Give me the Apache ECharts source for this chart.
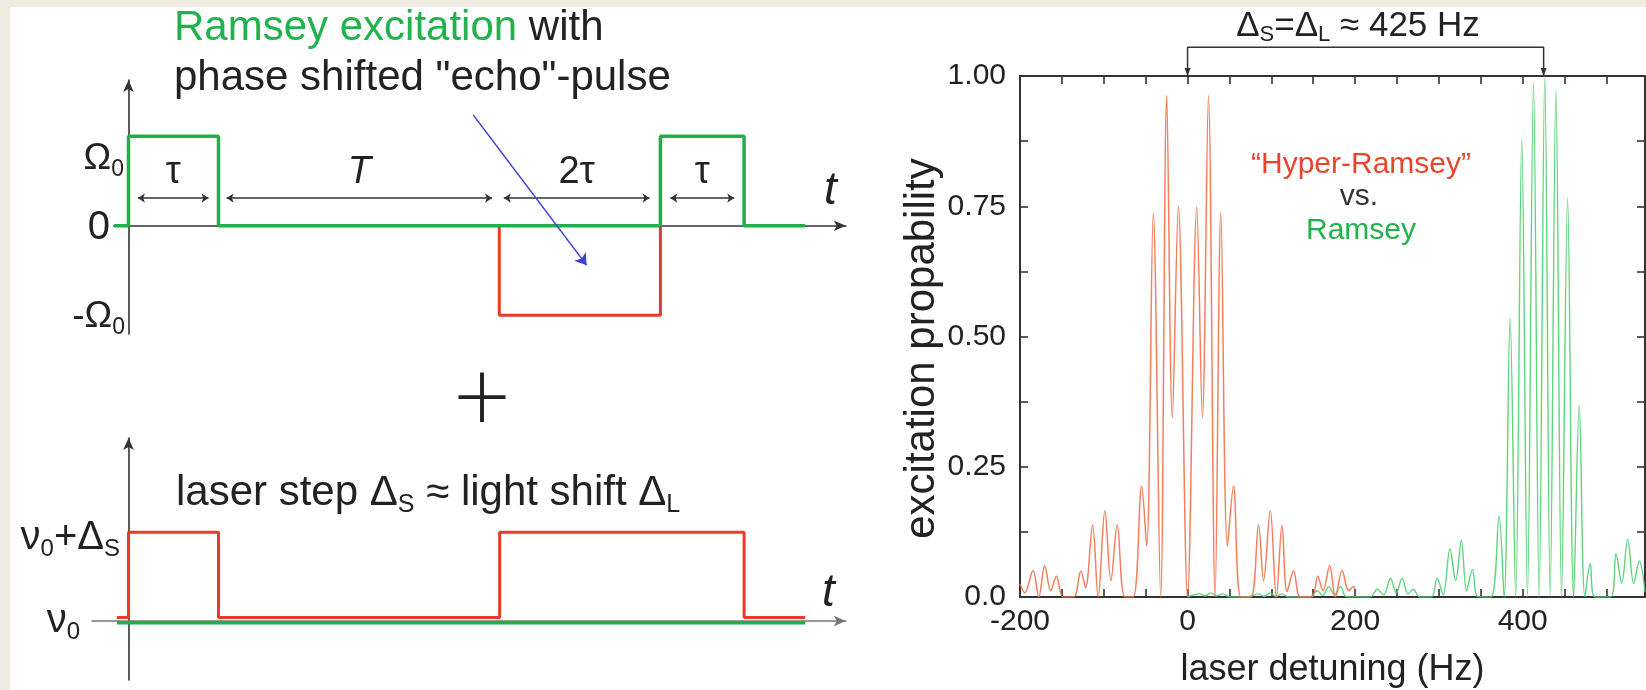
<!DOCTYPE html>
<html><head><meta charset="utf-8">
<script src="https://cdn.jsdelivr.net/npm/echarts@6/dist/echarts.min.js"></script>
<style>
html,body{margin:0;padding:0;background:#eeebe1;width:1646px;height:690px;overflow:hidden;}
#bg{position:absolute;left:10px;top:7px;right:0;bottom:0;background:#fff;}
#c{position:absolute;left:0;top:0;width:1646px;height:690px;}
</style>
</head><body><div id="bg"></div><div id="c"></div>
<script>
// ---------------- data ----------------
// upper schematic: Ramsey pulses (green) and phase-shifted echo pulse (red); time in units of tau
const pulseT       = [-0.16, 0, 0, 1, 1, 5.91, 5.91, 6.84, 6.84, 7.52];
const ramseyPulse  = [0, 0, 1, 1, 0, 0, 1, 1, 0, 0];
const echoT        = [4.12, 4.12, 5.91, 5.91];
const echoPulse    = [0, -1, -1, 0];
// duration brackets
const spanStart = [0.105, 1.09, 4.17, 6.02];
const spanEnd   = [0.89, 4.04, 5.79, 6.73];
const spanY     = 0.31;
const spanText  = ['τ', 'T', '2τ', 'τ'];
const spanTextY = 0.60;
// pointer from caption to echo pulse
const pointerT = [3.83, 5.09];
const pointerV = [1.24, -0.44];
// lower schematic: laser frequency step (red) and reference (green)
const stepT     = [-0.13, 0, 0, 1, 1, 4.124, 4.124, 6.84, 6.84, 7.52];
const laserStep = [0.04, 0.04, 1, 1, 0.04, 0.04, 1, 1, 0.04, 0.04];
const refT      = [-0.13, 7.52];
const refLevel  = [-0.02, -0.02];
// spectra
const redHz = [-200,-194.4,-184.4,-177.6,-170.5,-163.3,-156.5,-148.5,-136,-127.4,-121.8,-113.4,-106.7,-98.7,-91.5,-84,-74.8,-64.8,-54.8,-48.8,-40.9,-32.1,-24.9,-18.2,-11,0,11,17.7,24.9,32.9,39.7,47.6,54.8,63.6,75.6,84.7,90.7,98.7,106,112.7,118.7,126.6,134.6,148.6,155.3,161.7,169.6,176.4,184.4,192.3,198.3,200];
const redP  = [0.025,0.008,0.051,0,0.06,0.012,0.04,0,0,0.05,0.018,0.138,0,0.166,0.031,0.138,0,0,0.213,0.098,0.738,0,0.962,0.344,0.749,0,0.749,0.344,0.962,0,0.738,0.098,0.213,0,0,0.138,0.031,0.166,0,0.138,0.01,0.05,0,0,0.04,0.012,0.06,0,0.051,0.012,0.02,0.015];
const greenHz = [0,14,21,28,35,42,50, 72,84.7,91.5,98.7,105.5,112.7,120, 146,154.5,161.5,168.5,175.5,182.4,190, 218,226.3,234,242.2,249,256.2,263,269.4,277, 291,298,305,313.2,320,326.8,333.1,340,346.7, 362,371.8,377.8,385,391.7,398.9,405.7,412.9,419.6,426.4,432.8,439.7,446.4,453.6,460.8,467.5,474.3,480.6,486.2, 505,511.4,518.2,525.4,532.5,539.2,546];
const greenP  = [0,0.006,0.002,0.008,0.002,0.006,0, 0,0.006,0.001,0.008,0.001,0.006,0, 0,0.012,0.003,0.02,0.004,0.02,0, 0,0.015,0.004,0.036,0.008,0.036,0.006,0.015,0, 0,0.036,0.004,0.092,0.031,0.109,0.012,0.053,0, 0,0.155,0,0.535,0,0.88,0,0.987,0,1.0,0,0.974,0,0.766,0,0.368,0,0.064,0, 0,0.083,0.027,0.111,0.026,0.069,0.01];
// shift bracket
const bracketHz = [0, 0, 425, 425];
const bracketY  = [1.0, 1.055, 1.055, 1.0];
// tick labels
const xTickLabels = {'-200':'-200', '0':'0', '200':'200', '400':'400'};
const yTickLabels = {'0':'0.0', '0.25':'0.25', '0.5':'0.50', '0.75':'0.75', '1':'1.00'};

// ---------------- helpers ----------------
const FONT = '"Liberation Sans", Arial, Helvetica, sans-serif';
const zip = (a, b) => a.map((v, i) => [v, b[i]]);
const mctx = document.createElement('canvas').getContext('2d');
function fontStr(size, style, weight, fam) { return (style || 'normal') + ' ' + (weight || 'normal') + ' ' + size + 'px ' + (fam || FONT); }
function tw(p) { mctx.font = fontStr(p.s, p.st, p.w, p.f); return mctx.measureText(p.t).width; }
function textRun(parts, x, base, align) {
  const ws = parts.map(tw);
  const total = ws.reduce((a, b) => a + b, 0);
  let cx = align === 'right' ? x - total : align === 'center' ? x - total / 2 : x;
  return parts.map((p, i) => {
    const el = {type: 'text', silent: true, x: cx, y: base + (p.dy || 0) - 0.3465 * p.s,
      style: {text: p.t, font: fontStr(p.s, p.st, p.w, p.f), fill: p.c || '#222', align: 'left', verticalAlign: 'middle'}};
    cx += ws[i];
    return el;
  });
}

const noAxis = {axisTick: {show: false}, axisLabel: {show: false}, splitLine: {show: false}};
const diagLine = (color) => ({show: true, onZero: true, symbol: ['none', 'arrow'], symbolSize: [8, 12], lineStyle: {color: color, width: 1.6}});
const frameLine = {show: true, onZero: false, lineStyle: {color: '#333', width: 2}};
const frameTick = {show: true, inside: true, length: 8, lineStyle: {color: '#333', width: 1.6}};

const chart = echarts.init(document.getElementById('c'), null, {renderer: 'canvas', width: 1646, height: 690});

const option = {
  animation: false,
  backgroundColor: 'transparent',
  textStyle: {fontFamily: FONT},
  grid: [
    {left: 113.8, top: 80, width: 732, height: 254, containLabel: false, outerBoundsMode: 'none'},
    {left: 92, top: 438, width: 753.8, height: 242, containLabel: false, outerBoundsMode: 'none'},
    {left: 1020, top: 76, width: 625, height: 521, containLabel: false, outerBoundsMode: 'none'}
  ],
  xAxis: [
    Object.assign({gridIndex: 0, type: 'value', min: -0.163, max: 7.97, axisLine: diagLine('#333')}, noAxis),
    Object.assign({gridIndex: 1, type: 'value', min: -0.406, max: 7.97, axisLine: diagLine('#777')}, noAxis),
    {gridIndex: 2, type: 'value', min: -200, max: 546, interval: 50, position: 'bottom',
      axisLine: frameLine, axisTick: frameTick, splitLine: {show: false},
      axisLabel: {show: true, margin: 10, fontSize: 30, color: '#222', fontFamily: FONT,
        formatter: v => (xTickLabels[String(v)] !== undefined ? xTickLabels[String(v)] : '')},
      name: 'laser detuning (Hz)', nameLocation: 'middle', nameGap: 55,
      nameTextStyle: {fontSize: 36, color: '#222', fontFamily: FONT}},
    {gridIndex: 2, type: 'value', min: -200, max: 546, interval: 50, position: 'top',
      axisLine: frameLine, axisTick: frameTick, splitLine: {show: false}, axisLabel: {show: false}}
  ],
  yAxis: [
    Object.assign({gridIndex: 0, type: 'value', min: -1.21, max: 1.63, axisLine: diagLine('#333')}, noAxis),
    Object.assign({gridIndex: 1, type: 'value', min: -0.665, max: 2.063, axisLine: diagLine('#333')}, noAxis),
    {gridIndex: 2, type: 'value', min: 0, max: 1, interval: 0.125, position: 'left',
      axisLine: frameLine, axisTick: frameTick, splitLine: {show: false},
      axisLabel: {show: true, margin: 14, fontSize: 30, color: '#222', fontFamily: FONT,
        formatter: v => { const k = String(Math.round(v * 1000) / 1000); return yTickLabels[k] !== undefined ? yTickLabels[k] : ''; }},
      name: 'excitation propability', nameLocation: 'middle', nameGap: 75,
      nameTextStyle: {fontSize: 42, color: '#222', fontFamily: FONT, padding: [0, 24, 0, 0]}},
    {gridIndex: 2, type: 'value', min: 0, max: 1, interval: 0.125, position: 'right',
      axisLine: frameLine, axisTick: frameTick, splitLine: {show: false}, axisLabel: {show: false}}
  ],
  series: [
    {type: 'line', xAxisIndex: 0, yAxisIndex: 0, data: zip(pulseT, ramseyPulse), symbol: 'none', z: 4,
      lineStyle: {color: '#1db14c', width: 3.5}},
    {type: 'line', xAxisIndex: 0, yAxisIndex: 0, data: zip(echoT, echoPulse), symbol: 'none', z: 3,
      lineStyle: {color: '#e8392a', width: 3}},
    {type: 'lines', coordinateSystem: 'cartesian2d', xAxisIndex: 0, yAxisIndex: 0, z: 5,
      symbol: ['arrow', 'arrow'], symbolSize: 7,
      lineStyle: {color: '#333', width: 1.5, opacity: 1},
      data: spanStart.map((s, i) => ({coords: [[s, spanY], [spanEnd[i], spanY]]}))},
    {type: 'lines', coordinateSystem: 'cartesian2d', xAxisIndex: 0, yAxisIndex: 0, z: 6,
      symbol: ['none', 'arrow'], symbolSize: 11,
      lineStyle: {color: '#4444d0', width: 1.6, opacity: 1},
      data: [{coords: zip(pointerT, pointerV)}]},
    {type: 'line', xAxisIndex: 1, yAxisIndex: 1, data: zip(refT, refLevel), symbol: 'none', z: 3,
      lineStyle: {color: '#1db14c', width: 3.5}},
    {type: 'line', xAxisIndex: 1, yAxisIndex: 1, data: zip(stepT, laserStep), symbol: 'none', z: 4,
      lineStyle: {color: '#e8392a', width: 3}},
    {type: 'line', xAxisIndex: 2, yAxisIndex: 2, data: zip(greenHz, greenP), symbol: 'none', z: 3,
      smooth: 0.35, lineStyle: {color: '#4ccf6e', width: 1.4, opacity: 0.9}},
    {type: 'line', xAxisIndex: 2, yAxisIndex: 2, data: zip(redHz, redP), symbol: 'none', z: 4,
      smooth: 0.35, lineStyle: {color: '#f4704d', width: 1.5, opacity: 0.9}},
    {type: 'line', xAxisIndex: 2, yAxisIndex: 2, clip: false, z: 6, symbol: 'none',
      lineStyle: {color: '#333', width: 1.5},
      data: zip(bracketHz, bracketY).map((p, i) => (i === 0 || i === bracketHz.length - 1)
        ? {value: p, symbol: 'triangle', symbolSize: [6, 8], symbolRotate: 180, symbolOffset: [0, -4], itemStyle: {color: '#333'}}
        : {value: p})}
  ]
};
chart.setOption(option);

// ---------------- text ----------------
let els = [];
els = els.concat(textRun([{t: 'Ramsey excitation', s: 42, c: '#21b24b'}, {t: ' with', s: 42}], 174, 43, 'left'));
els = els.concat(textRun([{t: 'phase shifted "echo"-pulse', s: 42}], 174, 93, 'left'));
els = els.concat(textRun([{t: 'Ω', s: 37}, {t: '0', s: 23, dy: 6}], 124, 172, 'right'));
els = els.concat(textRun([{t: '0', s: 40}], 110, 242, 'right'));
els = els.concat(textRun([{t: '-Ω', s: 37}, {t: '0', s: 23, dy: 6}], 125, 330, 'right'));
els = els.concat(textRun([{t: 't', s: 46, st: 'italic'}], 824, 207, 'left'));
els = els.concat(textRun([{t: '+', s: 100, w: 300, f: 'Lato, Inter, "Liberation Sans", sans-serif'}], 482, 433, 'center'));
els = els.concat(textRun([{t: 'laser step Δ', s: 42}, {t: 'S', s: 25, dy: 6}, {t: ' ≈ light shift Δ', s: 42}, {t: 'L', s: 25, dy: 6}], 176, 508, 'left'));
els = els.concat(textRun([{t: 'ν', s: 40}, {t: '0', s: 24, dy: 6}, {t: '+Δ', s: 40}, {t: 'S', s: 24, dy: 6}], 120, 552, 'right'));
els = els.concat(textRun([{t: 'ν', s: 40}, {t: '0', s: 24, dy: 6}], 80, 635, 'right'));
els = els.concat(textRun([{t: 't', s: 46, st: 'italic'}], 822, 609, 'left'));
els = els.concat(textRun([{t: 'Δ', s: 35}, {t: 'S', s: 22, dy: 5}, {t: '=Δ', s: 35}, {t: 'L', s: 22, dy: 5}, {t: ' ≈ 425 Hz', s: 35}], 1358, 38, 'center'));
els = els.concat(textRun([{t: '“Hyper-Ramsey”', s: 30, c: '#e9452c'}], 1361, 175, 'center'));
els = els.concat(textRun([{t: 'vs.', s: 30, c: '#333'}], 1359, 207, 'center'));
els = els.concat(textRun([{t: 'Ramsey', s: 30, c: '#22b24c'}], 1361, 241, 'center'));
// duration labels placed through the schematic's axes
spanText.forEach((txt, i) => {
  const p = chart.convertToPixel({xAxisIndex: 0, yAxisIndex: 0}, [(spanStart[i] + spanEnd[i]) / 2, spanTextY]);
  const st = txt === 'T' ? 'italic' : 'normal';
  els = els.concat(textRun([{t: txt, s: 38, st: st}], p[0], p[1] + 0.3465 * 38, 'center'));
});
chart.setOption({graphic: {elements: els}});
</script>
</body></html>
